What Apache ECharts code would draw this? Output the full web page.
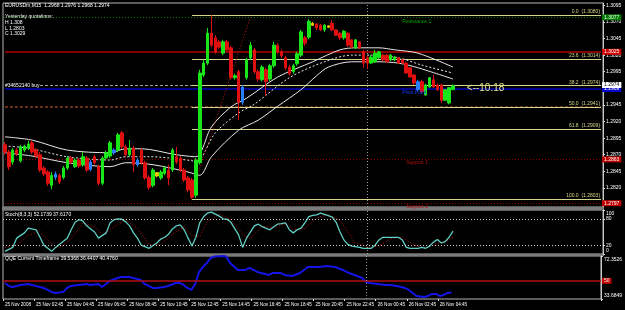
<!DOCTYPE html>
<html><head><meta charset="utf-8">
<script src="https://cdn.jsdelivr.net/npm/echarts@6/dist/echarts.min.js"></script>
<style>html,body{margin:0;padding:0;background:#000;}#c{width:625px;height:310px;}</style>
</head><body><div id="c"></div>
<script>
const symbolName = 'EURUSDm,M15';
const startTime = '2008-11-25T00:45:00Z';
const barMinutes = 15;
const emptyBars = 38;
// candles: [open, close, low, high]
const ohlc = [
[1.2885,1.2874,1.2870,1.2889],[1.2874,1.2852,1.2847,1.2877],[1.2859,1.2877,1.2855,1.2880],[1.2877,1.2871,1.2868,1.2880],
[1.2861,1.2882,1.2858,1.2885],[1.2877,1.2883,1.2874,1.2885],[1.2880,1.2886,1.2877,1.2891],[1.2888,1.2874,1.2871,1.2892],
[1.2877,1.2868,1.2865,1.2880],[1.2870,1.2847,1.2844,1.2874],[1.2850,1.2841,1.2838,1.2853],[1.2844,1.2827,1.2823,1.2847],
[1.2824,1.2839,1.2818,1.2844],[1.2836,1.2841,1.2832,1.2845],[1.2839,1.2829,1.2826,1.2842],[1.2836,1.2850,1.2833,1.2853],
[1.2850,1.2865,1.2847,1.2868],[1.2865,1.2859,1.2856,1.2868],[1.2852,1.2862,1.2850,1.2865],[1.2862,1.2853,1.2850,1.2865],
[1.2855,1.2867,1.2852,1.2874],[1.2865,1.2847,1.2844,1.2868],[1.2848,1.2859,1.2845,1.2862],[1.2867,1.2858,1.2855,1.2870],
[1.2852,1.2827,1.2824,1.2855],[1.2827,1.2865,1.2824,1.2868],[1.2865,1.2873,1.2862,1.2876],[1.2868,1.2888,1.2865,1.2891],
[1.2873,1.2877,1.2870,1.2880],[1.2877,1.2900,1.2874,1.2903],[1.2903,1.2882,1.2879,1.2906],[1.2882,1.2870,1.2867,1.2885],
[1.2870,1.2880,1.2867,1.2892],[1.2880,1.2855,1.2844,1.2883],[1.2855,1.2862,1.2852,1.2865],[1.2877,1.2858,1.2855,1.2880],
[1.2858,1.2835,1.2832,1.2861],[1.2836,1.2821,1.2817,1.2839],[1.2824,1.2847,1.2821,1.2850],[1.2843,1.2838,1.2836,1.2844],
[1.2835,1.2844,1.2832,1.2847],[1.2842,1.2850,1.2839,1.2853],[1.2847,1.2835,1.2824,1.2855],[1.2847,1.2877,1.2844,1.2880],
[1.2867,1.2859,1.2856,1.2882],[1.2865,1.2847,1.2844,1.2868],[1.2847,1.2832,1.2829,1.2850],[1.2835,1.2817,1.2814,1.2838],
[1.2832,1.2806,1.2803,1.2835],[1.2809,1.2862,1.2805,1.2865],[1.2858,1.2993,1.2855,1.2998],[1.2990,1.3008,1.2987,1.3013],
[1.3008,1.3053,1.3005,1.3061],[1.3053,1.3035,1.3032,1.3080],[1.3046,1.3025,1.3022,1.3050],[1.3040,1.3032,1.3029,1.3043],
[1.3023,1.3040,1.3020,1.3043],[1.3040,1.3028,1.3025,1.3043],[1.3031,1.2986,1.2983,1.3034],[1.2986,1.2989,1.2983,1.2992],
[1.2995,1.2949,1.2922,1.2998],[1.2949,1.2972,1.2945,1.2975],[1.2986,1.3013,1.2983,1.3016],[1.3016,1.3035,1.3013,1.3040],
[1.3028,1.2995,1.2992,1.3031],[1.2995,1.2984,1.2980,1.2998],[1.2983,1.3002,1.2980,1.3005],[1.2998,1.2980,1.2959,1.3001],
[1.2984,1.3004,1.2981,1.3007],[1.3004,1.3035,1.3001,1.3040],[1.3035,1.3025,1.3022,1.3038],[1.3025,1.3019,1.3016,1.3028],
[1.3016,1.3001,1.2998,1.3019],[1.3002,1.2992,1.2989,1.3005],[1.2995,1.3004,1.2992,1.3007],[1.3007,1.3022,1.3004,1.3025],
[1.3020,1.3055,1.3017,1.3058],[1.3046,1.3038,1.3034,1.3049],[1.3047,1.3071,1.3044,1.3074],[1.3068,1.3065,1.3064,1.3070],
[1.3067,1.3061,1.3058,1.3068],[1.3065,1.3058,1.3056,1.3067],[1.3058,1.3065,1.3055,1.3067],[1.3064,1.3062,1.3061,1.3065],
[1.3068,1.3058,1.3056,1.3073],[1.3058,1.3050,1.3049,1.3059],[1.3053,1.3046,1.3043,1.3055],[1.3046,1.3056,1.3043,1.3058],
[1.3053,1.3035,1.3032,1.3055],[1.3043,1.3032,1.3031,1.3044],[1.3031,1.3043,1.3029,1.3044],[1.3040,1.3031,1.3029,1.3041],
[1.3025,1.3008,1.3001,1.3028],[1.3016,1.3008,1.2999,1.3019],[1.3008,1.3017,1.3007,1.3020],[1.3010,1.3023,1.3008,1.3028],
[1.3016,1.3025,1.3014,1.3026],[1.3020,1.3013,1.3011,1.3022],[1.3020,1.3010,1.3008,1.3022],[1.3013,1.3020,1.3011,1.3022],
[1.3013,1.3017,1.3011,1.3019],[1.3016,1.3008,1.3007,1.3017],[1.3013,1.3008,1.3007,1.3014],[1.3008,1.2993,1.2992,1.3010],
[1.3001,1.2987,1.2986,1.3002],[1.2990,1.2978,1.2975,1.2992],[1.2968,1.2980,1.2965,1.2983],[1.2980,1.2965,1.2963,1.2983],
[1.2960,1.2975,1.2959,1.2977],[1.2972,1.2986,1.2971,1.2987],[1.2983,1.2972,1.2971,1.2990],[1.2975,1.2968,1.2966,1.2977],
[1.2975,1.2952,1.2948,1.2977],[1.2952,1.2968,1.2951,1.2969],[1.2948,1.2971,1.2946,1.2972],[1.2968,1.2974,1.2968,1.2976]
];
const blueBars = [13, 22, 28, 34, 61, 106];
const yellowBars = [39, 79, 83];
// envelope lines [bar, price]
const bandUpper = [[0,1.2897],[7,1.2892],[16,1.2877],[27,1.2873],[31,1.2879],[35,1.2879],[44,1.2870],[49,1.2867],[53,1.2912],[58,1.2942],[62,1.2955],[70,1.2987],[79,1.3010],[86,1.3028],[90,1.3031],[96,1.3031],[100,1.3028],[106,1.3023],[115,1.3002]];
const bandMiddle = [[0,1.2883],[6,1.2880],[16,1.2867],[27,1.2862],[31,1.2867],[37,1.2867],[48,1.2861],[49,1.2858],[54,1.2903],[60,1.2933],[64,1.2946],[73,1.2986],[82,1.3010],[89,1.3020],[94,1.3020],[101,1.3016],[107,1.3005],[115,1.2993]];
const bandLower = [[0,1.2873],[7,1.2868],[16,1.2858],[27,1.2852],[31,1.2858],[38,1.2855],[47,1.2844],[50,1.2839],[53,1.2867],[60,1.2907],[65,1.2922],[70,1.2943],[76,1.2968],[80,1.2989],[83,1.3002],[89,1.3010],[96,1.3010],[101,1.3008],[106,1.3001],[115,1.2984]];
const trendLine = [[48,1.2815],[63,1.3077]];
const fibStartBar = 48;
const fibLevels = ['0.0','23.6','38.2','50.0','61.8','100.0'];
const fibPrices = [1.3080,1.3014,1.2974,1.2941,1.2909,1.2803];
const resistance1 = 1.3077, pivotPrice = 1.2969, support1 = 1.2863, support2 = 1.2797;
const redLevel = 1.3025, brownLevel = 1.2943, orderPrice = 1.2975, orderStartBar = 9;
const orderText = '#34652140 buy';
const yesterday = ['H 1.308', 'L 1.2803', 'C 1.3029'];
const priceTicks = [1.3095,1.3070,1.3045,1.3020,1.2995,1.2970,1.2945,1.2920,1.2895,1.2870,1.2845,1.2820,1.2795];
const priceMin = 1.27913, priceMax = 1.30985;
const separatorBar = 93;
const stochMain = [[0,6],[2,15],[3,36],[5,48],[6,59],[8,55],[9,38],[10,20],[12,6],[13,15],[15,29],[16,36],[17,55],[18,72],[19,78],[20,75],[21,64],[22,57],[23,50],[24,36],[26,48],[27,71],[28,78],[29,80],[30,79],[31,73],[32,64],[33,48],[34,36],[35,20],[37,13],[39,25],[40,34],[41,38],[42,45],[43,57],[44,64],[45,66],[46,55],[47,36],[48,18],[49,38],[50,71],[51,85],[52,93],[53,95],[55,86],[56,80],[57,79],[58,72],[60,43],[61,15],[62,36],[64,64],[65,68],[66,62],[68,55],[69,62],[70,68],[71,69],[72,71],[73,55],[74,48],[75,55],[76,59],[77,71],[78,85],[79,88],[80,89],[81,93],[83,87],[84,84],[85,72],[86,50],[87,32],[88,22],[89,18],[91,15],[92,13],[94,13],[95,20],[96,32],[97,38],[99,38],[100,38],[101,38],[102,32],[103,15],[104,13],[106,13],[107,15],[108,13],[109,18],[110,27],[111,33],[112,25],[113,28],[114,38],[115,52.1739]];
const stochSignal = [[0,15],[3,20],[6,42],[9,52],[12,22],[14,14],[17,35],[20,70],[23,62],[25,45],[28,62],[31,78],[34,58],[37,22],[40,22],[43,45],[46,62],[48,42],[50,40],[52,75],[55,90],[58,78],[61,45],[63,35],[66,64],[69,60],[72,68],[74,55],[77,58],[80,82],[83,90],[86,76],[88,50],[90,25],[93,15],[96,18],[99,35],[102,38],[105,20],[108,14],[111,24],[113,28],[115,37.617]];
const stochTicks = [100, 80, 20, 0];
const stochLevels = [80, 20];
const qqeLine = [[0,48.1],[1,45.4],[2,44.5],[4,46.3],[6,47.2],[7,46.3],[8,45.4],[10,43.6],[12,40.0],[13,39.1],[15,40.0],[16,43.6],[17,45.4],[19,46.3],[21,47.2],[22,46.3],[24,47.2],[25,44.5],[26,47.2],[27,49.9],[29,52.6],[30,53.5],[32,53.5],[33,52.6],[35,50.8],[36,47.2],[38,43.6],[39,43.6],[41,44.5],[42,45.4],[44,48.1],[45,48.1],[46,46.3],[47,43.6],[48,41.8],[49,47.2],[50,58.0],[51,62.5],[52,66.1],[53,70.6],[54,72.0],[56,72.3],[57,71.8],[58,66.1],[60,59.8],[62,59.8],[63,61.6],[65,58.0],[66,57.1],[68,55.3],[69,57.1],[71,57.1],[72,55.3],[74,54.4],[76,57.1],[77,59.8],[78,62.5],[81,62.5],[83,63.4],[85,62.5],[87,59.8],[88,58.0],[90,55.3],[92,52.6],[93,48.9],[94,48.1],[96,47.2],[98,46.3],[99,46.3],[101,45.4],[103,43.6],[104,41.8],[105,39.1],[106,36.4],[108,35.5],[109,36.4],[110,38.2],[111,38.2],[112,36.4],[113,37.3],[114,39.1],[115,39.5368]];
const qqeExtra = [36.4407, 40.4760];
const qqeTicks = [72.3526, 33.6849];
const qqeLevel = 50;

const FONT = '"Liberation Sans", Arial, sans-serif';
const MON = ['Jan','Feb','Mar','Apr','May','Jun','Jul','Aug','Sep','Oct','Nov','Dec'];
const pad = n => (n < 10 ? '0' : '') + n;
const nCat = ohlc.length + emptyBars;
const cats = [];
const t0 = Date.parse(startTime);
for (let i = 0; i < nCat; i++) {
  const d = new Date(t0 + i * barMinutes * 60000);
  cats.push(d.getUTCDate() + ' ' + MON[d.getUTCMonth()] + ' ' + pad(d.getUTCHours()) + ':' + pad(d.getUTCMinutes()));
}
const d0 = new Date(t0);
const firstLabel = d0.getUTCDate() + ' ' + MON[d0.getUTCMonth()] + ' ' + d0.getUTCFullYear();
const last = ohlc[ohlc.length - 1];

const GREEN = '#19e619', RED = '#e01010', BLUE = '#2a7fff', YELLOW = '#e8c800';
const candleData = ohlc.map((v, i) => {
  let c = null;
  if (blueBars.includes(i)) c = BLUE;
  if (yellowBars.includes(i)) c = YELLOW;
  return c ? {value: v, itemStyle: {color: c, color0: c, borderColor: c, borderColor0: c}} : v;
});

const box = (bg, txt, fg) => ({show: true, position: 'end', formatter: txt, backgroundColor: bg,
  color: fg || '#fff', fontSize: 5, fontFamily: FONT, padding: [1, 2, 0, 2], distance: 1});
const FIBC = '#d4d48c';
const seg = (price, from, style, label) => [{coord: [from, price], lineStyle: style, label: label || {show: false}}, {coord: [nCat - 1, price]}];
const levelLines = [
  seg(resistance1, 0, {color: '#008a00', type: [1, 2], width: 1}, box('#007a00', resistance1.toFixed(4))),
  seg(redLevel, 0, {color: '#b00000', type: 'solid', width: 1.5}, box('#d00000', redLevel.toFixed(4))),
  seg(pivotPrice, 0, {color: '#000090', type: 'solid', width: 2}, box('#0000c8', pivotPrice.toFixed(4))),
  seg(brownLevel, 0, {color: '#8a4020', type: [3, 2], width: 1.5}),
  seg(support1, 0, {color: '#900000', type: [1, 2], width: 1}, box('#c00000', support1.toFixed(4))),
  seg(support2, 0, {color: '#900000', type: [1, 2], width: 1}, box('#c00000', support2.toFixed(4))),
  seg(orderPrice, orderStartBar, {color: '#a0a0a0', type: [3, 2], width: 1}, box('#ffffff', last[1].toFixed(4), '#000'))
];
fibPrices.forEach((p, k) => {
  levelLines.push(seg(p, fibStartBar, {color: FIBC, type: 'solid', width: 1},
    {show: true, position: 'insideEndTop', distance: 1, color: FIBC, fontSize: 5, fontFamily: FONT,
      formatter: fibLevels[k] + '  (' + p.toFixed(4) + ')'}));
});
const sepLine = {xAxis: separatorBar, lineStyle: {color: '#9a9a9a', type: [1, 2], width: 1}, label: {show: false}};
const txtPoint = (bar, price, text, color, dy) => ({coord: [bar, price], symbolSize: 0,
  label: {show: true, formatter: text, color: color, fontSize: 5, fontFamily: FONT, position: [0, dy], align: 'left', verticalAlign: 'top'}});

const hidX = (g) => ({type: 'category', gridIndex: g, data: cats, boundaryGap: true,
  axisLine: {show: false}, axisTick: {show: false}, axisLabel: {show: false}, splitLine: {show: false}});
const labelFn = (idx) => idx % 8 === 0 && idx < ohlc.length - 2;
const gridBase = {left: 3, width: 600, show: true, borderColor: '#b4b4b4', borderWidth: 1, backgroundColor: '#000'};
// keep the panel end labels inside their panel, like the terminal does
const edgeRich = {t: {padding: [7, 0, 0, 0], fontSize: 5, color: '#fff', fontFamily: FONT},
                  b: {padding: [0, 0, 7, 0], fontSize: 5, color: '#fff', fontFamily: FONT}};
const edgeFmt = (top, bottom, dec) => v => {
  const s = dec ? v.toFixed(dec) : String(v);
  if (Math.abs(v - top) < 1e-9) return '{t|' + s + '}';
  if (Math.abs(v - bottom) < 1e-9) return '{b|' + s + '}';
  return s;
};

const option = {
  backgroundColor: '#000',
  animation: false,
  grid: [
    Object.assign({top: 3, height: 204}, gridBase),
    Object.assign({top: 210, height: 44}, gridBase),
    Object.assign({top: 256, height: 43}, gridBase)
  ],
  xAxis: [hidX(0), hidX(1), Object.assign(hidX(2), {
    axisTick: {show: true, interval: labelFn, length: 2, lineStyle: {color: '#ddd'}},
    axisLabel: {show: true, interval: labelFn, align: 'left', color: '#fff', fontSize: 4.6, fontFamily: FONT, margin: 3,
      formatter: (v, i) => i === 0 ? firstLabel : v}
  })],
  yAxis: [
    {gridIndex: 0, position: 'right', min: priceMin, max: priceMax, scale: true, splitLine: {show: false},
      axisLine: {show: true, lineStyle: {color: '#c8c8c8'}},
      axisTick: {show: true, customValues: priceTicks, length: 2, lineStyle: {color: '#ddd'}},
      axisLabel: {customValues: priceTicks, formatter: v => v.toFixed(4), color: '#fff', fontSize: 5, fontFamily: FONT, margin: 3}},
    {gridIndex: 1, position: 'right', min: 0, max: 100, splitLine: {show: false},
      axisLine: {show: true, lineStyle: {color: '#c8c8c8'}},
      axisTick: {show: true, customValues: stochTicks, length: 2, lineStyle: {color: '#ddd'}},
      axisLabel: {customValues: stochTicks, color: '#fff', fontSize: 5, fontFamily: FONT, margin: 3,
        formatter: edgeFmt(100, 0, 0), rich: edgeRich}},
    {gridIndex: 2, position: 'right', min: qqeTicks[1], max: qqeTicks[0], splitLine: {show: false},
      axisLine: {show: true, lineStyle: {color: '#c8c8c8'}},
      axisTick: {show: true, customValues: qqeTicks, length: 2, lineStyle: {color: '#ddd'}},
      axisLabel: {customValues: qqeTicks, color: '#fff', fontSize: 5, fontFamily: FONT, margin: 3,
        formatter: edgeFmt(qqeTicks[0], qqeTicks[1], 4), rich: edgeRich}}
  ],
  series: [
    {type: 'line', xAxisIndex: 0, yAxisIndex: 0, data: bandUpper, symbol: 'none', smooth: 0.3, z: 1,
      lineStyle: {color: '#e8e8e8', width: 1},
      markLine: {silent: true, symbol: ['none', 'none'], z: 1, data: levelLines.concat([sepLine])}},
    {type: 'line', xAxisIndex: 0, yAxisIndex: 0, data: bandMiddle, symbol: 'none', smooth: 0.3, z: 3,
      lineStyle: {color: '#e8e8e8', width: 1, type: [2, 2]}},
    {type: 'line', xAxisIndex: 0, yAxisIndex: 0, data: bandLower, symbol: 'none', smooth: 0.3, z: 3,
      lineStyle: {color: '#e8e8e8', width: 1}},
    {type: 'line', xAxisIndex: 0, yAxisIndex: 0, data: trendLine, symbol: 'none', z: 3,
      lineStyle: {color: '#c01818', width: 1, type: [1, 2]}},
    {type: 'candlestick', xAxisIndex: 0, yAxisIndex: 0, data: candleData, barWidth: 3, z: 4,
      itemStyle: {color: GREEN, color0: RED, borderColor: GREEN, borderColor0: RED, borderWidth: 1},
      markPoint: {silent: true, symbol: 'circle', symbolSize: 0, data: [
        txtPoint(102, resistance1, 'Resistance 1', '#00a000', 2),
        txtPoint(102, pivotPrice, 'Pivot Point', '#1a3cff', 1),
        txtPoint(103, support1, 'Support 1', '#b01010', 1),
        txtPoint(103, support2, 'Support 2', '#b01010', 1),
        {coord: [ohlc.length + 1, last[1]], symbolSize: 0, label: {show: true, formatter: '<--10:18', color: '#e6e68a',
          fontSize: 10, fontFamily: FONT, position: [6, -2], align: 'left', verticalAlign: 'top'}}
      ]}},
    {type: 'line', xAxisIndex: 1, yAxisIndex: 1, data: stochSignal, symbol: 'none',
      lineStyle: {color: '#c01010', width: 1, type: [1, 2]}},
    {type: 'line', xAxisIndex: 1, yAxisIndex: 1, data: stochMain, symbol: 'none',
      lineStyle: {color: '#5fcfc4', width: 1.3},
      markLine: {silent: true, symbol: ['none', 'none'], label: {show: false},
        data: stochLevels.map(v => ({yAxis: v, lineStyle: {color: '#d0d0d0', type: [1, 2], width: 1}})).concat([sepLine])}},
    {type: 'line', xAxisIndex: 2, yAxisIndex: 2, data: qqeLine, symbol: 'none',
      lineStyle: {color: '#1414e6', width: 2},
      markLine: {silent: true, symbol: ['none', 'none'], data: [
        {yAxis: qqeLevel, lineStyle: {color: '#b01010', type: 'solid', width: 1.5}, label: box('#c00000', String(qqeLevel))},
        sepLine]}}
  ],
  graphic: [
    {type: 'rect', shape: {x: 2, y: 207, width: 602, height: 3}, style: {fill: '#7a7a7a'}},
    {type: 'rect', shape: {x: 2, y: 254, width: 602, height: 2}, style: {fill: '#7a7a7a'}},
    {type: 'text', x: 5, y: 3.5, style: {text: symbolName + '  ' + last[0].toFixed(4) + ' ' + last[3].toFixed(4) + ' ' + last[2].toFixed(4) + ' ' + last[1].toFixed(4), fill: '#fff', font: '5px ' + FONT}},
    {type: 'text', x: 5, y: 14.5, style: {text: 'Yesterday quotations:', fill: '#fff', font: '5px ' + FONT}},
    {type: 'text', x: 5, y: 20.5, style: {text: yesterday[0], fill: '#fff', font: '5px ' + FONT}},
    {type: 'text', x: 5, y: 26, style: {text: yesterday[1], fill: '#fff', font: '5px ' + FONT}},
    {type: 'text', x: 5, y: 31.5, style: {text: yesterday[2], fill: '#fff', font: '5px ' + FONT}},
    {type: 'text', x: 5, y: 83.5, style: {text: orderText, fill: '#fff', font: '5px ' + FONT}},
    {type: 'text', x: 5, y: 212.5, style: {text: 'Stoch(8,3,3) ' + stochMain[stochMain.length - 1][1].toFixed(4) + ' ' + stochSignal[stochSignal.length - 1][1].toFixed(4), fill: '#fff', font: '5px ' + FONT}},
    {type: 'text', x: 5, y: 256.5, style: {text: 'QQE Current Timeframe ' + qqeLine[qqeLine.length - 1][1].toFixed(4) + ' ' + qqeExtra[0].toFixed(4) + ' ' + qqeExtra[1].toFixed(4), fill: '#fff', font: '5px ' + FONT}}
  ]
};
const chart = echarts.init(document.getElementById('c'), null, {renderer: 'canvas', width: 625, height: 310});
chart.setOption(option);
</script></body></html>
